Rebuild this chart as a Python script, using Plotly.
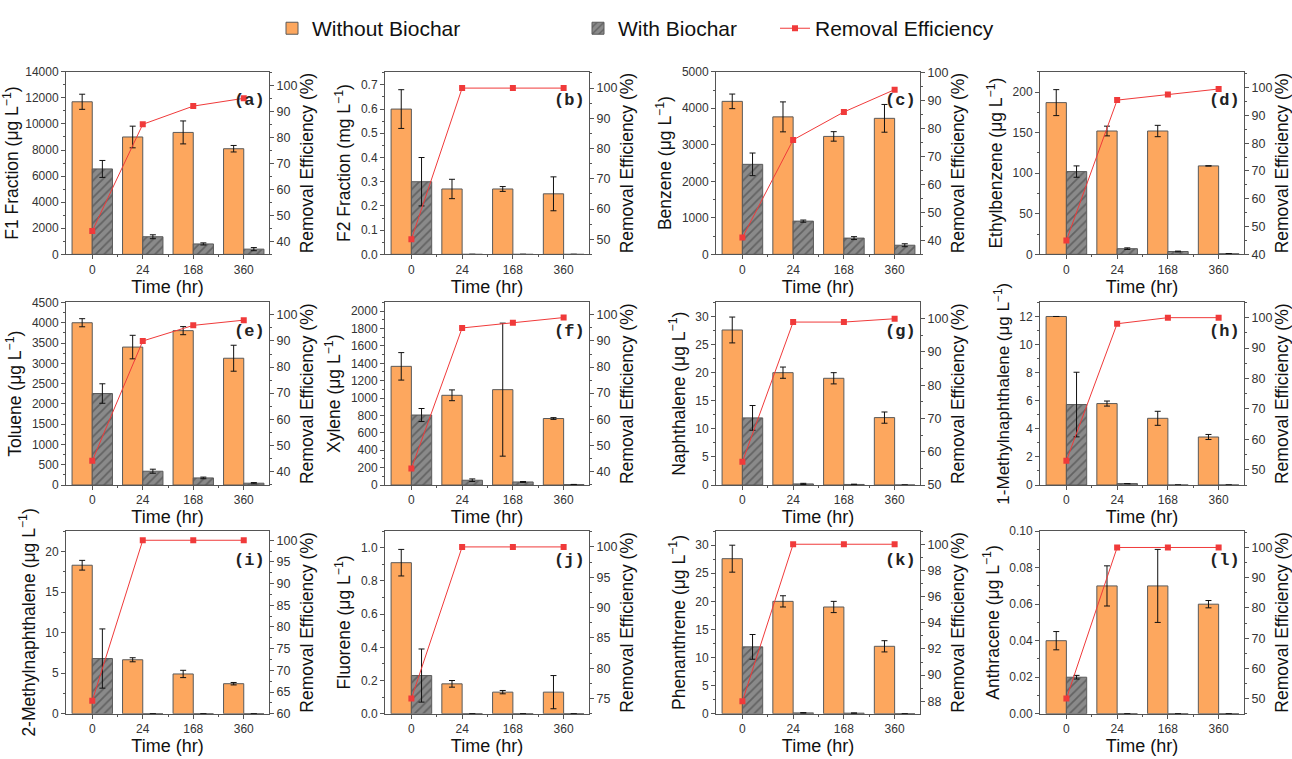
import plotly.graph_objects as go

# ---------------- data ----------------
time_labels = ["0", "24", "168", "360"]
time_pos = [0, 1, 2, 3]

a_without = [11700, 9000, 9350, 8100]
a_without_err = [580, 830, 880, 250]
a_with = [6550, 1350, 800, 400]
a_with_err = [650, 150, 80, 120]
a_re = [44, 85, 92, 95]

b_without = [0.60, 0.27, 0.27, 0.25]
b_without_err = [0.08, 0.04, 0.01, 0.07]
b_with = [0.30, 0, 0, 0]
b_with_err = [0.10, 0, 0, 0]
b_re = [50, 100, 100, 100]

c_without = [4190, 3765, 3230, 3725]
c_without_err = [200, 410, 130, 380]
c_with = [2465, 910, 445, 250]
c_with_err = [310, 30, 40, 40]
c_re = [41, 76, 86, 94]

d_without = [187, 152, 152, 109]
d_without_err = [16, 6, 7, 0]
d_with = [102, 7, 3.5, 0.8]
d_with_err = [7, 1, 0.5, 0.2]
d_re = [45, 95.5, 97.5, 99.5]

e_without = [4000, 3400, 3805, 3125]
e_without_err = [100, 290, 100, 320]
e_with = [2255, 340, 175, 45]
e_with_err = [240, 50, 20, 15]
e_re = [44, 90, 96, 98]

f_without = [1365, 1032, 1097, 765]
f_without_err = [158, 62, 765, 10]
f_with = [805, 55, 35, 5]
f_with_err = [75, 15, 5, 2]
f_re = [41, 95, 97, 99]

g_without = [27.6, 20.0, 19.0, 12.0]
g_without_err = [2.3, 1.0, 1.0, 1.0]
g_with = [11.95, 0.2, 0.1, 0]
g_with_err = [2.2, 0.1, 0.05, 0]
g_re = [57, 99, 99, 100]

h_without = [12.0, 5.8, 4.75, 3.42]
h_without_err = [0, 0.18, 0.5, 0.18]
h_with = [5.73, 0.1, 0, 0]
h_with_err = [2.3, 0, 0, 0]
h_re = [53, 98, 100, 100]

i_without = [18.3, 6.65, 4.9, 3.7]
i_without_err = [0.6, 0.25, 0.45, 0.15]
i_with = [6.8, 0, 0, 0]
i_with_err = [3.65, 0, 0, 0]
i_re = [63, 100, 100, 100]

j_without = [0.91, 0.18, 0.13, 0.13]
j_without_err = [0.08, 0.02, 0.01, 0.10]
j_with = [0.23, 0, 0, 0]
j_with_err = [0.16, 0, 0, 0]
j_re = [75, 100, 100, 100]

k_without = [27.6, 20.0, 19.0, 12.0]
k_without_err = [2.4, 1.0, 1.0, 1.0]
k_with = [11.9, 0.15, 0.1, 0]
k_with_err = [2.2, 0.05, 0.05, 0]
k_re = [88, 100, 100, 100]

l_without = [0.040, 0.070, 0.070, 0.060]
l_without_err = [0.005, 0.011, 0.020, 0.002]
l_with = [0.020, 0, 0, 0]
l_with_err = [0.001, 0, 0, 0]
l_re = [50, 100, 100, 100]

y_titles = [
    "F1 Fraction (μg L<sup>−1</sup>)",
    "F2 Fraction (mg L<sup>−1</sup>)",
    "Benzene (μg L<sup>−1</sup>)",
    "Ethylbenzene (μg L<sup>−1</sup>)",
    "Toluene (μg L<sup>−1</sup>)",
    "Xylene (μg L<sup>−1</sup>)",
    "Naphthalene (μg L<sup>−1</sup>)",
    "1-Methylnaphthalene (μg L<sup>−1</sup>)",
    "2-Methylnaphthalene (μg L<sup>−1</sup>)",
    "Fluorene (μg L<sup>−1</sup>)",
    "Phenanthrene (μg L<sup>−1</sup>)",
    "Anthracene (μg L<sup>−1</sup>)",
]
panel_labels = ["(a)", "(b)", "(c)", "(d)", "(e)", "(f)", "(g)", "(h)", "(i)", "(j)", "(k)", "(l)"]

panel_data = [
    (a_without, a_without_err, a_with, a_with_err, a_re),
    (b_without, b_without_err, b_with, b_with_err, b_re),
    (c_without, c_without_err, c_with, c_with_err, c_re),
    (d_without, d_without_err, d_with, d_with_err, d_re),
    (e_without, e_without_err, e_with, e_with_err, e_re),
    (f_without, f_without_err, f_with, f_with_err, f_re),
    (g_without, g_without_err, g_with, g_with_err, g_re),
    (h_without, h_without_err, h_with, h_with_err, h_re),
    (i_without, i_without_err, i_with, i_with_err, i_re),
    (j_without, j_without_err, j_with, j_with_err, j_re),
    (k_without, k_without_err, k_with, k_with_err, k_re),
    (l_without, l_without_err, l_with, l_with_err, l_re),
]

# ---------------- axis settings ----------------
# (y1 range, y1 dtick, y1 format, y2 range, y2 tick0, y2 dtick)
axis_cfg = [
    ([0, 14000], 2000, "d", [35, 105.2], 40, 10),
    ([0, 0.754], 0.1, ".1f", [45, 105.4], 50, 10),
    ([0, 5000], 1000, "d", [35, 100.4], 40, 10),
    ([0, 225], 50, "d", [40, 105.7], 40, 10),
    ([0, 4500], 500, "d", [34.7, 104.8], 40, 10),
    ([0, 2100], 200, "d", [34.7, 104.8], 40, 10),
    ([0, 32.5], 5, "d", [50, 104.9], 50, 10),
    ([0, 13], 2, "d", [45, 105], 50, 10),
    ([0, 22.5], 5, "d", [60, 102.1], 60, 5),
    ([0, 1.1], 0.2, ".1f", [72.5, 102.6], 75, 5),
    ([0, 32.5], 5, "d", [87.05, 101], 88, 2),
    ([0, 0.1], 0.02, ".2f", [45, 105.4], 50, 10),
]

W, H = 1292, 759
col_px = [(66, 269), (385, 589), (716, 920), (1040, 1244)]
row_px = [(66, 252), (301, 487), (534, 720)]

ORANGE = "#fda75e"
GRAY = "#8a8a8a"
HATCH = "#3a3a3a"
RED = "#f03a3a"
AXC = "#555555"
FONT = "Liberation Sans, Arial, sans-serif"

fig = go.Figure()
layout = dict(
    width=W, height=H,
    margin=dict(l=0, r=0, t=0, b=0),
    paper_bgcolor="white", plot_bgcolor="white",
    barmode="overlay",
    font=dict(family=FONT, color="#222"),
    showlegend=True,
)
annotations = []

for k in range(12):
    r, c = divmod(k, 4)
    x0, x1 = col_px[c]
    yt, yb = row_px[r]
    xn = "" if k == 0 else str(k + 1)
    y1n = "" if k == 0 else str(2 * k + 1)
    y2n = str(2 * k + 2)
    wo, wo_e, wi, wi_e, re_ = panel_data[k]
    y1r, y1d, y1f, y2r, y2t0, y2d = axis_cfg[k]

    fig.add_trace(go.Bar(
        x=time_pos, y=wo, offset=-0.4, width=0.4,
        marker=dict(color=ORANGE, line=dict(color="#5a5a5a", width=1)),
        error_y=dict(type="data", array=wo_e, color="#111", thickness=1, width=3),
        name="Without Biochar", legend="legend",
        showlegend=(k == 0), xaxis="x" + xn, yaxis="y" + y1n,
    ))
    fig.add_trace(go.Bar(
        x=time_pos, y=wi, offset=0, width=0.4,
        marker=dict(color=GRAY, line=dict(color="#5a5a5a", width=1),
                    pattern=dict(shape="/", fgcolor=HATCH, bgcolor=GRAY, size=6, solidity=0.3)),
        error_y=dict(type="data", array=wi_e, color="#111", thickness=1, width=3),
        name="With Biochar", legend="legend2",
        showlegend=(k == 0), xaxis="x" + xn, yaxis="y" + y1n,
    ))
    fig.add_trace(go.Scatter(
        x=time_pos, y=re_, mode="lines+markers",
        line=dict(color=RED, width=1),
        marker=dict(symbol="square", size=6, color=RED),
        name="Removal Efficiency", legend="legend3",
        showlegend=(k == 0), xaxis="x" + xn, yaxis="y" + y2n,
    ))

    layout["xaxis" + xn] = dict(
        domain=[x0 / W, x1 / W], anchor="y" + y1n,
        range=[-0.52, 3.5], tickmode="array", tickvals=time_pos, ticktext=time_labels,
        ticks="outside", ticklen=4, tickcolor=AXC,
        minor=dict(tickmode="array", tickvals=[0.5, 1.5, 2.5], ticks="outside", ticklen=2, tickcolor=AXC),
        showline=True, linecolor=AXC, linewidth=1, mirror=True,
        showgrid=False, zeroline=False,
        tickfont=dict(size=12, color="#333"),
        title=dict(text="Time (hr)", font=dict(size=18, color="#111"), standoff=0),
    )
    layout["yaxis" + y1n] = dict(
        domain=[1 - yb / H, 1 - yt / H], anchor="x" + xn,
        range=y1r, dtick=y1d, tick0=0, tickformat=y1f,
        ticks="outside", ticklen=4, tickcolor=AXC,
        minor=dict(dtick=y1d / 2, ticks="outside", ticklen=2, tickcolor=AXC),
        showline=True, linecolor=AXC, linewidth=1,
        showgrid=False, zeroline=False,
        tickfont=dict(size=12, color="#333"),
        title=dict(text=y_titles[k], font=dict(size=17.5 if k != 7 else 17, color="#111"), standoff=5),
    )
    layout["yaxis" + y2n] = dict(
        domain=[1 - yb / H, 1 - yt / H], anchor="x" + xn,
        overlaying="y" + y1n, side="right",
        range=y2r, tick0=y2t0, dtick=y2d,
        ticks="outside", ticklen=4, tickcolor=AXC,
        minor=dict(dtick=y2d / 2, ticks="outside", ticklen=2, tickcolor=AXC),
        showline=True, linecolor=AXC, linewidth=1,
        showgrid=False, zeroline=False,
        tickfont=dict(size=12.5, color="#333"),
        title=dict(text="Removal Efficiency (%)", font=dict(size=17.5, color="#111"), standoff=4),
    )
    annotations.append(dict(
        text="<b>" + panel_labels[k] + "</b>",
        xref="x" + xn + " domain", yref="y" + y1n + " domain",
        x=0.99, y=0.84, xanchor="right", yanchor="middle", showarrow=False,
        font=dict(family="Liberation Mono, Courier New, monospace", size=17, color="#222"),
    ))

leg_common = dict(orientation="h", yanchor="middle", xanchor="left",
                  font=dict(size=21, color="#111", family=FONT),
                  bgcolor="rgba(0,0,0,0)", borderwidth=0)
layout["legend"] = dict(leg_common, x=272 / W, y=1 - 22 / H)
layout["legend2"] = dict(leg_common, x=578 / W, y=1 - 22 / H)
layout["legend3"] = dict(leg_common, x=775 / W, y=1 - 22 / H)
layout["annotations"] = annotations

fig.update_layout(**layout)
fig.write_html("out.html")
